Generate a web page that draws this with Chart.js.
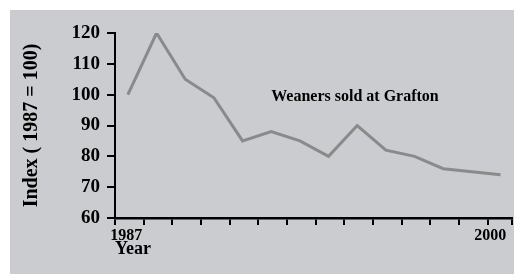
<!DOCTYPE html>
<html>
<head>
<meta charset="utf-8">
<script src="https://cdn.jsdelivr.net/npm/chart.js@4/dist/chart.umd.min.js"></script>
<style>
html,body{margin:0;padding:0;background:#ffffff;}
#wrap{width:514px;height:275px;position:relative;}
canvas{display:block;}
</style>
</head>
<body>
<div id="wrap"><canvas id="c" width="514" height="275"></canvas></div>
<script>
// ---- data ----
const years = [1987,1988,1989,1990,1991,1992,1993,1994,1995,1996,1997,1998,1999,2000];
const weanerIndex = [100,120,105,99,85,88,85,80,90,82,80,76,75,74];
const yTickValues = [60,70,80,90,100,110,120];
const xLabelTexts = ['1987','2000'];
const xLabelValues = [1986.94,1999.64];
const seriesLabel = 'Weaners sold at Grafton';
const yTitle = 'Index ( 1987 = 100)';
const xTitle = 'Year';

// tick marks sit just before each year; axis runs a little past the last year
const xMin = 1986.55, xMax = 2000.4;
const xTickMarks = years.map(y => y - 0.45).concat([xMax]);

const FONT = '"Liberation Serif", "Times New Roman", serif';
const PANEL = '#cbcccf';

const bgPlugin = {
  id: 'panel',
  beforeDraw(chart) {
    const ctx = chart.ctx;
    ctx.save();
    ctx.fillStyle = PANEL;
    ctx.fillRect(10, 10, chart.width - 10, chart.height - 11);
    ctx.restore();
  }
};

const labelPlugin = {
  id: 'seriesLabel',
  afterDatasetsDraw(chart) {
    const ctx = chart.ctx;
    const xs = chart.scales.x, ys = chart.scales.y;
    ctx.save();
    ctx.font = 'bold 16px ' + FONT;
    ctx.fillStyle = '#000';
    ctx.textAlign = 'left';
    ctx.textBaseline = 'middle';
    ctx.fillText(seriesLabel, xs.getPixelForValue(1992), ys.getPixelForValue(99.3));
    ctx.restore();
  }
};

new Chart(document.getElementById('c'), {
  type: 'line',
  data: {
    datasets: [{
      label: seriesLabel,
      data: years.map((yr, i) => ({x: yr, y: weanerIndex[i]})),
      xAxisID: 'x',
      yAxisID: 'y',
      borderColor: '#8a8a8a',
      borderWidth: 3,
      pointRadius: 0,
      tension: 0,
      fill: false
    }]
  },
  options: {
    responsive: false,
    animation: false,
    devicePixelRatio: 1,
    layout: {padding: {left: 10, top: 33, right: 2, bottom: 15}},
    plugins: {legend: {display: false}, tooltip: {enabled: false}},
    scales: {
      y: {
        type: 'linear', position: 'left', min: 60, max: 120,
        afterBuildTicks(s) { s.ticks = yTickValues.map(v => ({value: v})); },
        afterFit(s) { s.width = 105; },
        ticks: {color: '#000', padding: 7, font: {family: FONT, size: 19, weight: 'bold'}},
        grid: {drawOnChartArea: false, drawTicks: true, tickLength: 8, color: '#000', lineWidth: 2},
        border: {display: true, color: '#000', width: 2},
        title: {display: true, text: yTitle, color: '#000', padding: {top: 10, bottom: 0},
                font: {family: FONT, size: 20, weight: 'bold'}}
      },
      x: {
        type: 'linear', position: 'bottom', min: xMin, max: xMax,
        afterBuildTicks(s) { s.ticks = xTickMarks.map(v => ({value: v})); },
        afterFit(s) { s.height = 8; },
        ticks: {display: false},
        grid: {drawOnChartArea: false, drawTicks: true, tickLength: 7, color: '#000', lineWidth: 2},
        border: {display: true, color: '#000', width: 2.5}
      },
      x2: {
        type: 'linear', position: 'bottom', min: xMin, max: xMax,
        afterBuildTicks(s) { s.ticks = xLabelValues.map(v => ({value: v})); },
        afterFit(s) { s.height = 34; },
        ticks: {
          color: '#000', padding: 0, autoSkip: false, maxRotation: 0,
          font: {family: FONT, size: 16, weight: 'bold'},
          callback(v, i) { return xLabelTexts[i]; }
        },
        grid: {display: false, drawTicks: false},
        border: {display: false},
        title: {display: true, text: xTitle, align: 'start', color: '#000', padding: 0,
                font: {family: FONT, size: 18, weight: 'bold'}}
      }
    }
  },
  plugins: [bgPlugin, labelPlugin]
});
</script>
</body>
</html>
